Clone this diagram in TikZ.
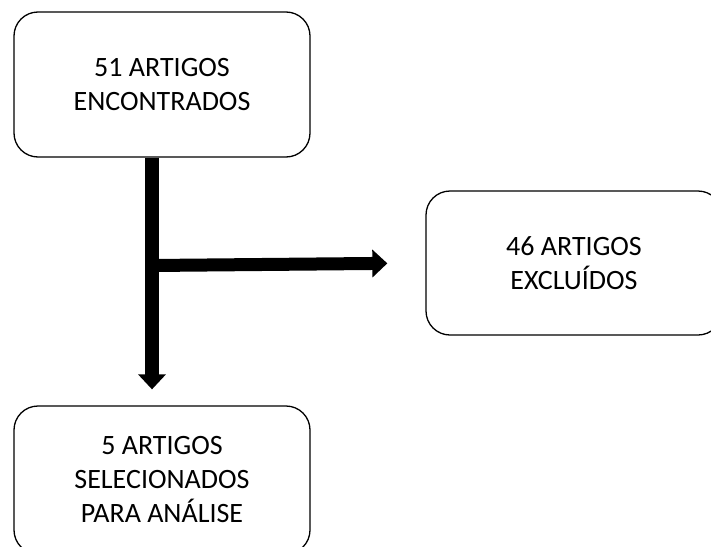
\documentclass[tikz,border=0pt]{standalone}
\usepackage{fontspec}
\setmainfont{Carlito}
\usetikzlibrary{arrows.meta}
\begin{document}
\begin{tikzpicture}[x=1pt,y=-1pt,
  box/.style={draw, line width=1.3pt, rounded corners=24pt, align=center,
    font=\fontsize{28}{34}\selectfont, inner sep=0pt,
    minimum width=296pt},
  fat/.style={line width=14pt, -{Triangle[length=15pt,width=27pt]}}]
\useasboundingbox (0,0) rectangle (711,546);
\node[box, minimum height=145pt] (a) at (162,84.5) {51 ARTIGOS\\ENCONTRADOS};
\node[box, minimum height=144pt] (b) at (574,263) {46 ARTIGOS\\EXCLUÍDOS};
\node[box, minimum height=148pt] (c) at (162,480) {5 ARTIGOS\\SELECIONADOS\\PARA ANÁLISE};
\coordinate (j) at (152,265.5);
\draw[fat, shorten >=16pt] (j |- a.south) -- (j |- c.north);
\draw[fat, line width=13pt, shorten >=38pt] (j) -- (b.west);
\end{tikzpicture}
\end{document}
